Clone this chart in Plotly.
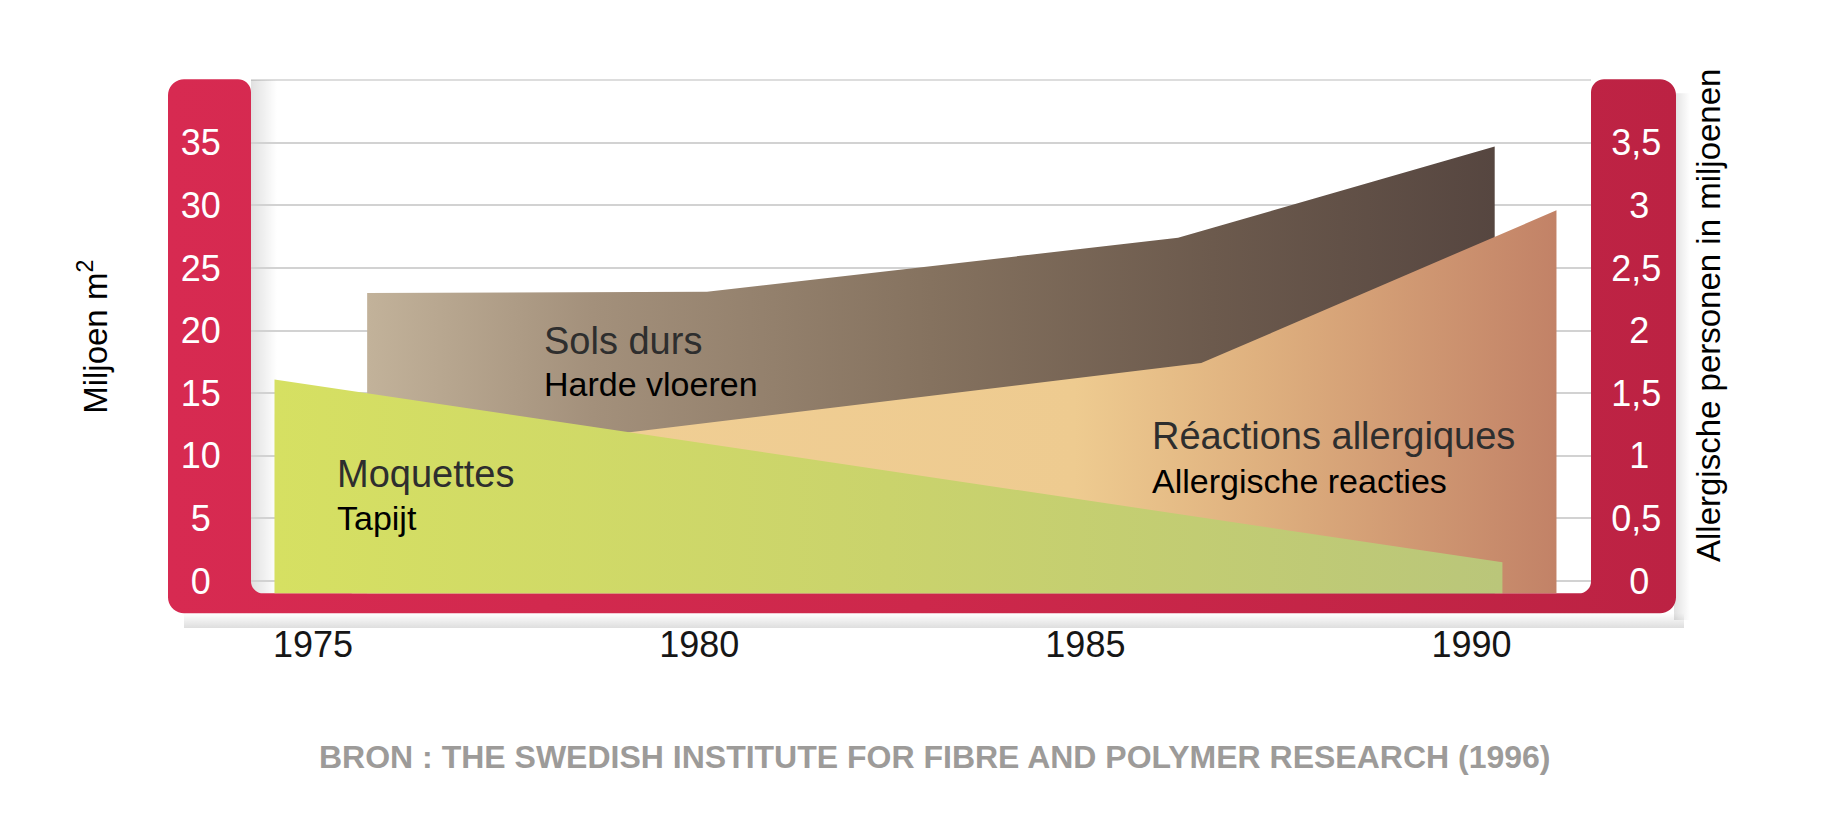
import numpy as np
import plotly.graph_objects as go

# ---------------- data ----------------
year_ticks = [1975, 1980, 1985, 1990]
year_labels = ["1975", "1980", "1985", "1990"]

# Harde vloeren / Sols durs (million m2)
hard_years = [1975.7, 1980.1, 1986.2, 1990.3]
hard_floors = [23.0, 23.1, 27.4, 34.7]

# Tapijt / Moquettes (million m2)
carpet_years = [1974.5, 1990.4]
carpet = [16.1, 1.5]

# Allergische reacties (million persons)
allergy_years = [1975.5, 1986.5, 1991.1]
allergy = [0.92, 1.74, 2.96]

left_ticks = [0, 5, 10, 15, 20, 25, 30, 35]
left_labels = ["0\u00a0", "5\u00a0", "10", "15", "20", "25", "30", "35"]
right_ticks = [0, 0.5, 1, 1.5, 2, 2.5, 3, 3.5]
right_labels = ["\u20020", "0,5", "\u20021", "1,5", "\u20022", "2,5", "\u20023", "3,5"]

W, H = 1824, 836
# plot area in pixels
PL, PR, PT, PB = 243, 1583, 72.7, 591

NARROW = "Liberation Sans, Arial, Helvetica, sans-serif"
SANS = "Liberation Sans, Arial, Helvetica, sans-serif"


def arc(cx, cy, r, a0, a1, n=10):
    t = np.radians(np.linspace(a0, a1, n))
    return list(cx + r * np.cos(t)), list(cy + r * np.sin(t))


def frame_path():
    R, R2, r = 16, 13, 12
    x0, x1, y0, y1 = 160, 1668, 72, 611
    segs = [
        arc(x0 + R, y0 + R, R, 180, 270),
        arc(PL - R2, y0 + R2, R2, 270, 360),
        arc(PL + r, PB - r, r, 180, 90),
        arc(PR - r, PB - r, r, 90, 0),
        arc(PR + R2, y0 + R2, R2, 180, 270),
        arc(x1 - R, y0 + R, R, 270, 360),
        arc(x1 - R, y1 - R, R, 0, 90),
        arc(x0 + R, y1 - R, R, 90, 180),
    ]
    xs, ys = [], []
    for sx, sy in segs:
        xs += sx
        ys += sy
    xs.append(xs[0]); ys.append(ys[0])
    return xs, ys


def area(xs, ys, base):
    return [xs[0]] + list(xs) + [xs[-1]], [base] + list(ys) + [base]


fig = go.Figure()

# ---- decoration subplot (pixel space) ----
fig.add_trace(go.Scatter(x=[176, 1676, 1676, 176, 176], y=[611, 611, 626, 626, 611],
                         mode="none", fill="toself", hoverinfo="skip", showlegend=False,
                         fillgradient=dict(type="vertical",
                                           colorscale=[[0, "rgba(0,0,0,0.13)"], [1, "rgba(0,0,0,0)"]]),
                         xaxis="x", yaxis="y"))
fig.add_trace(go.Scatter(x=[1666, 1682, 1682, 1666, 1666], y=[86, 86, 618, 618, 86],
                         mode="none", fill="toself", hoverinfo="skip", showlegend=False,
                         fillgradient=dict(type="horizontal",
                                           colorscale=[[0, "rgba(0,0,0,0.12)"], [1, "rgba(0,0,0,0)"]]),
                         xaxis="x", yaxis="y"))
fig.add_trace(go.Scatter(x=[PL, PL + 26, PL + 26, PL, PL], y=[PT, PT, PB, PB, PT],
                         mode="none", fill="toself", hoverinfo="skip", showlegend=False,
                         fillgradient=dict(type="horizontal",
                                           colorscale=[[0, "rgba(0,0,0,0.12)"], [1, "rgba(0,0,0,0)"]]),
                         xaxis="x", yaxis="y"))
fx, fy = frame_path()
fig.add_trace(go.Scatter(x=fx, y=fy, mode="none", fill="toself", hoverinfo="skip", showlegend=False,
                         fillgradient=dict(type="horizontal",
                                           colorscale=[[0, "#d72a51"], [0.5, "#cd284b"], [1, "#bc2243"]]),
                         xaxis="x", yaxis="y"))

# ---- data ----
hx, hy = area(hard_years, hard_floors, -5)
fig.add_trace(go.Scatter(x=hx, y=hy, mode="none", fill="toself", name="Harde vloeren",
                         fillgradient=dict(type="horizontal",
                                           colorscale=[[0, "#c2b29a"], [0.2, "#a3907b"], [0.5, "#85725f"],
                                                       [0.75, "#6c5a4d"], [1, "#564640"]]),
                         xaxis="x2", yaxis="y2", showlegend=False, hoverinfo="skip"))
ax_, ay_ = area(allergy_years, allergy, -0.5)
fig.add_trace(go.Scatter(x=ax_, y=ay_, mode="none", fill="toself", name="Allergische reacties",
                         fillgradient=dict(type="horizontal",
                                           colorscale=[[0, "#f1d096"], [0.6, "#eecb90"], [0.75, "#dfb17f"],
                                                       [1, "#c28267"]]),
                         xaxis="x2", yaxis="y3", showlegend=False, hoverinfo="skip"))
cx, cy = area(carpet_years, carpet, -5)
fig.add_trace(go.Scatter(x=cx, y=cy, mode="none", fill="toself", name="Tapijt",
                         fillgradient=dict(type="horizontal",
                                           colorscale=[[0, "#d6e062"], [0.5, "#cad36c"], [1, "#bac67a"]]),
                         xaxis="x2", yaxis="y4", showlegend=False, hoverinfo="skip"))

# ---- axes ----
xdom = [PL / W, PR / W]
ydom = [(H - PB) / H, (H - PT) / H]
y_rng = [-0.98, 40.0]

fig.update_layout(
    width=W, height=H, autosize=False,
    margin=dict(l=0, r=0, t=0, b=0),
    paper_bgcolor="white", plot_bgcolor="rgba(0,0,0,0)",
    showlegend=False,
    xaxis=dict(domain=[0, 1], range=[0, W], visible=False, fixedrange=True),
    yaxis=dict(domain=[0, 1], range=[H, 0], visible=False, fixedrange=True),
    xaxis2=dict(domain=xdom, anchor="y2", range=[1974.196, 1991.547],
                tickvals=year_ticks, ticktext=year_labels, showgrid=False, zeroline=False,
                showline=False, ticks="outside", ticklen=19, tickcolor="rgba(0,0,0,0)",
                tickfont=dict(family=SANS, size=36, color="#161616"), fixedrange=True),
    yaxis2=dict(domain=ydom, anchor="x2", range=y_rng,
                tickvals=left_ticks, ticktext=left_labels, showgrid=True,
                gridcolor="#d2d2d2", gridwidth=1.5, zeroline=False, showline=False,
                ticks="outside", ticklen=22, tickcolor="rgba(0,0,0,0)",
                tickfont=dict(family=SANS, size=36, color="white"), fixedrange=True),
    yaxis3=dict(overlaying="y2", side="right", anchor="x2", range=[y_rng[0] / 10, y_rng[1] / 10],
                tickvals=right_ticks, ticktext=right_labels, showgrid=False, zeroline=False,
                showline=False, ticks="outside", ticklen=12, tickcolor="rgba(0,0,0,0)",
                tickfont=dict(family=SANS, size=36, color="white"), fixedrange=True),
    yaxis4=dict(overlaying="y2", anchor="x2", range=y_rng, visible=False, fixedrange=True),
)

# top border line of the plot area
fig.add_shape(type="line", xref="x", yref="y", x0=PL, x1=PR, y0=PT, y1=PT,
              line=dict(color="#d2d2d2", width=1.5), layer="below")

# ---- texts ----
def note(x, y, text, font, size, color, angle=0, xanchor="left"):
    fig.add_annotation(x=x, y=y, xref="x", yref="y", text=text, showarrow=False,
                       xanchor=xanchor, yanchor="middle", textangle=angle,
                       font=dict(family=font, size=size, color=color))

note(534, 336, "Sols durs", SANS, 38, "#2e2e2e")
note(534, 380, "Harde vloeren", NARROW, 34, "#000000")
note(327, 470, "Moquettes", SANS, 38, "#2e2e2e")
note(327, 515, "Tapijt", NARROW, 34, "#000000")
note(1142, 432, "Réactions allergiques", SANS, 38, "#2e2e2e")
note(1142, 478, "Allergische reacties", NARROW, 34, "#000000")
note(85, 332, "Miljoen m<sup>2</sup>", NARROW, 33, "#000000", angle=-90, xanchor="center")
note(1700, 311, "Allergische personen in miljoenen", NARROW, 33, "#000000", angle=-90, xanchor="center")
note(927, 756, "<b>BRON : THE SWEDISH INSTITUTE FOR FIBRE AND POLYMER RESEARCH (1996)</b>",
     SANS, 32, "#9d9b99", xanchor="center")

fig.write_html("out.html")
